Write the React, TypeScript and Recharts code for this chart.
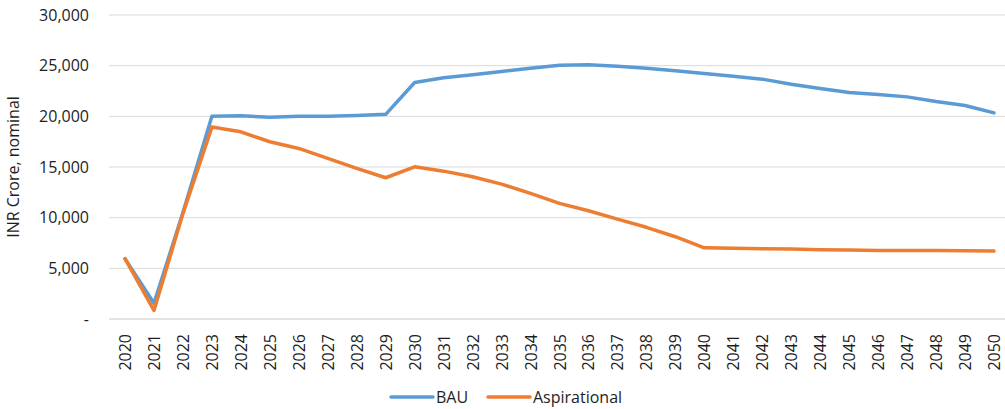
import React from "react";
import { LineChart, Line, XAxis, YAxis, CartesianGrid, Legend } from "recharts";

const years = [
  "2020","2021","2022","2023","2024","2025","2026","2027","2028","2029","2030",
  "2031","2032","2033","2034","2035","2036","2037","2038","2039","2040",
  "2041","2042","2043","2044","2045","2046","2047","2048","2049","2050",
];

const bau = [
  5950, 1550, 10500, 20000, 20050, 19900, 20000, 20000, 20080, 20200, 23340,
  23800, 24100, 24430, 24750, 25050, 25080, 24950, 24750, 24490, 24230,
  23960, 23670, 23170, 22750, 22350, 22160, 21920, 21460, 21070, 20340,
];

const aspirational = [
  5950, 850, 10400, 18940, 18470, 17490, 16830, 15850, 14860, 13940, 15020,
  14590, 14040, 13310, 12390, 11410, 10680, 9860, 9050, 8120, 7030,
  6970, 6940, 6900, 6840, 6800, 6770, 6770, 6770, 6740, 6700,
];

const yTicks = [0, 5000, 10000, 15000, 20000, 25000, 30000];

const seriesNames = { bau: "BAU", aspirational: "Aspirational" };
const colors = { bau: "#5b9bd5", aspirational: "#ed7d31" };

const data = years.map((y, i) => ({ year: y, bau: bau[i], aspirational: aspirational[i] }));

const FONT = "'Open Sans', 'Liberation Sans', sans-serif";
const TEXT = "#1e1e1e";
const FS = 16;

const fmt = (v: number) => (v === 0 ? "-" : v.toLocaleString("en-US"));

const XTick = (props: any) => {
  const { x, y, payload } = props;
  return (
    <text
      x={x}
      y={y}
      transform={`rotate(-90, ${x}, ${y})`}
      textAnchor="end"
      dominantBaseline="central"
      fontFamily={FONT}
      fontSize={FS}
      fill={TEXT}
    >
      {payload.value}
    </text>
  );
};

const LegendContent = () => {
  const items = [
    { key: "bau", x: 391 },
    { key: "aspirational", x: 488 },
  ] as const;
  return (
    <svg width={1005} height={24} style={{ display: "block" }}>
      {items.map((it) => (
        <g key={it.key}>
          <line x1={it.x} x2={it.x + 42} y1={12} y2={12} stroke={colors[it.key]} strokeWidth={3.5} strokeLinecap="round" />
          <text x={it.x + 45} y={12} dominantBaseline="central" fontFamily={FONT} fontSize={FS} fill={TEXT}>
            {seriesNames[it.key]}
          </text>
        </g>
      ))}
    </svg>
  );
};

export default function App() {
  return (
    <div style={{ position: "absolute", left: 0, top: 0, background: "#fff" }}>
      <LineChart
        width={1005}
        height={409}
        data={data}
        margin={{ top: 15, right: 0, bottom: 0, left: 0 }}
      >
        <CartesianGrid vertical={false} stroke="#d9d9d9" strokeWidth={1} />
        <XAxis
          dataKey="year"
          interval={0}
          tickLine={false}
          axisLine={{ stroke: "#d9d9d9" }}
          height={66}
          padding={{ left: 16, right: 11 }}
          tick={<XTick />}
          tickMargin={9}
        />
        <YAxis
          domain={[0, 30000]}
          ticks={yTicks}
          tickFormatter={fmt}
          tickLine={false}
          axisLine={false}
          width={109}
          tickMargin={14}
          tick={{ fontFamily: FONT, fontSize: FS, fill: TEXT }}
          label={{
            value: "INR Crore, nominal",
            angle: -90,
            position: "insideLeft",
            dx: 8,
            style: { fontFamily: FONT, fontSize: FS, fill: TEXT, textAnchor: "middle" },
          }}
        />
        <Legend verticalAlign="bottom" height={24} content={<LegendContent />} />
        <Line
          type="linear"
          dataKey="bau"
          name={seriesNames.bau}
          stroke={colors.bau}
          strokeWidth={3.5}
          strokeLinejoin="round"
          strokeLinecap="round"
          dot={false}
          isAnimationActive={false}
        />
        <Line
          type="linear"
          dataKey="aspirational"
          name={seriesNames.aspirational}
          stroke={colors.aspirational}
          strokeWidth={3.5}
          strokeLinejoin="round"
          strokeLinecap="round"
          dot={false}
          isAnimationActive={false}
        />
      </LineChart>
    </div>
  );
}
